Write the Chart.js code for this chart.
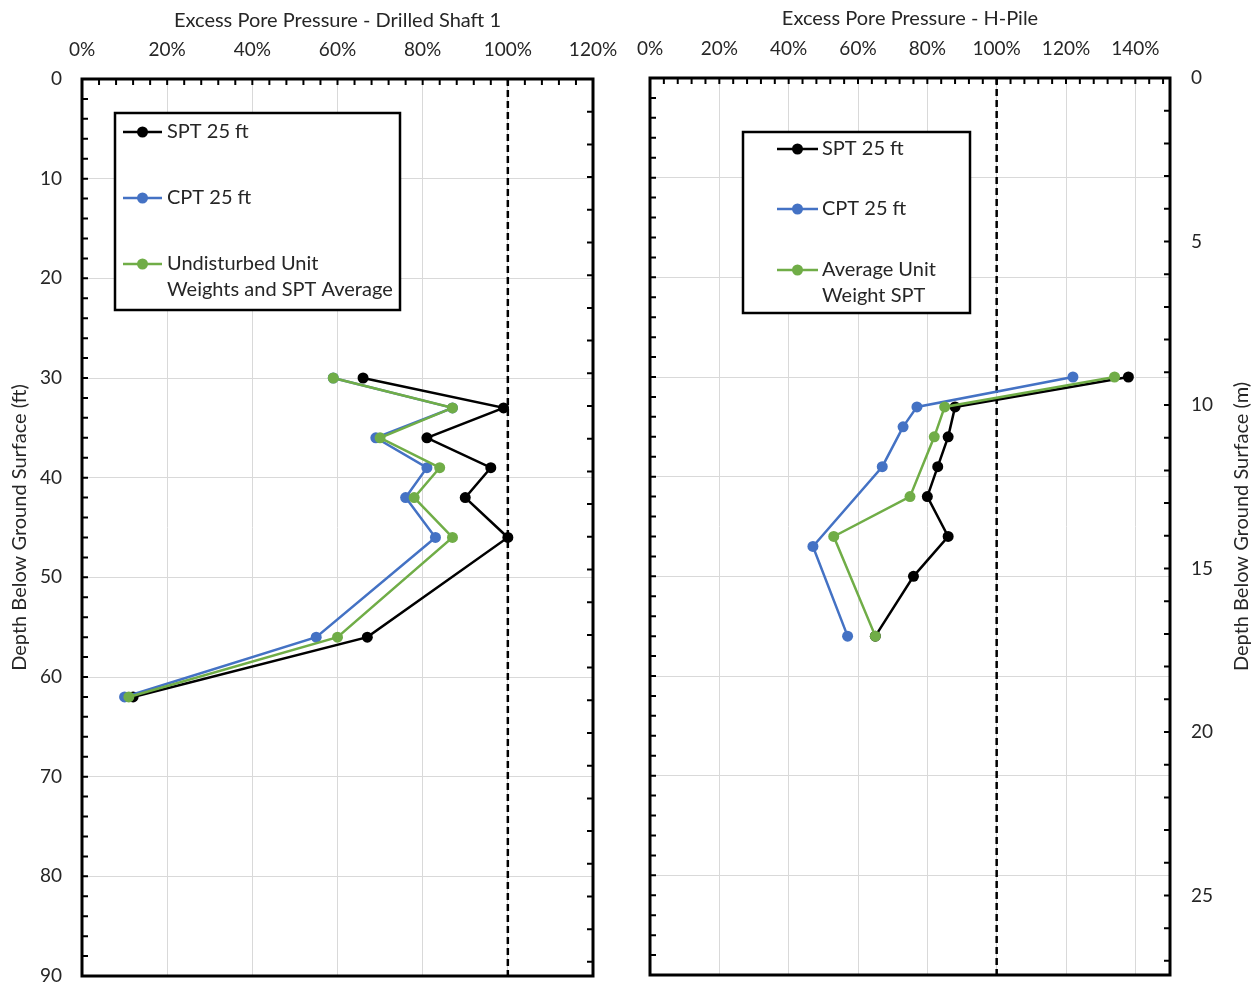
<!DOCTYPE html>
<html>
<head>
<meta charset="utf-8">
<script src="https://cdn.jsdelivr.net/npm/chart.js@4.4.1/dist/chart.umd.min.js"></script>
<style>
  body { margin: 0; background: #fff; }
  #shaftWrap { position: absolute; left: 0; top: 0; width: 625px; height: 986px; }
  #pileWrap { position: absolute; left: 625px; top: 0; width: 633px; height: 986px; }
</style>
</head>
<body>
<div id="shaftWrap"><canvas id="shaftChart"></canvas></div>
<div id="pileWrap"><canvas id="pileChart"></canvas></div>
<script>
// ---- Drilled Shaft 1 (depth in ft, excess pore pressure in %) ----
const shaftDepths = [30, 33, 36, 39, 42, 46, 56, 62];
const shaftSpt = [66, 99, 81, 96, 90, 100, 67, 12];
const shaftCpt = [59, 87, 69, 81, 76, 83, 55, 10];
const shaftUnitWt = [59, 87, 70, 84, 78, 87, 60, 11];

// ---- H-Pile ----
const pileSptDepths = [30, 33, 36, 39, 42, 46, 50, 56];
const pileSpt = [138, 88, 86, 83, 80, 86, 76, 65];
const pileCptDepths = [30, 33, 35, 39, 47, 56];
const pileCpt = [122, 77, 73, 67, 47, 57];
const pileAvgDepths = [30, 33, 36, 42, 46, 56];
const pileAvg = [134, 85, 82, 75, 53, 65];

// tick labels
const shaftXTicks = [0, 20, 40, 60, 80, 100, 120];
const pileXTicks = [0, 20, 40, 60, 80, 100, 120, 140];
const depthTicksFt = [0, 10, 20, 30, 40, 50, 60, 70, 80, 90];
const depthTicksM = [0, 5, 10, 15, 20, 25];
const limitLine = 100;

const FT_TO_M = 0.3048;
const textColor = "#262626";
const fontFamily = "Lato, 'Open Sans', sans-serif";

function points(xs, ys) {
  return ys.map((d, i) => ({ x: xs[i], y: d }));
}

function series(label, color, xs, ys, order) {
  return {
    label: label,
    data: points(xs, ys),
    borderColor: color,
    backgroundColor: color,
    borderWidth: 2.5,
    pointRadius: 5.5,
    pointBorderWidth: 0,
    pointBackgroundColor: color,
    tension: 0,
    order: order
  };
}

// axis size is fixed, drop the extra label padding chart.js adds
function fixSize(prop, size) {
  return s => {
    s[prop] = size;
    s.paddingLeft = s.paddingRight = s.paddingTop = s.paddingBottom = 0;
  };
}

// frame, minor ticks, dashed 100% line, boxed legend
const framePlugin = {
  id: "frame",
  beforeDatasetsDraw(chart) {
    const { ctx, chartArea: a, scales } = chart;
    const px = scales.x.getPixelForValue(limitLine);
    ctx.save();
    ctx.strokeStyle = "#000";
    ctx.lineWidth = 2.5;
    ctx.setLineDash([7, 4]);
    ctx.beginPath();
    ctx.moveTo(px, a.top);
    ctx.lineTo(px, a.bottom);
    ctx.stroke();
    ctx.restore();
  },
  afterDatasetsDraw(chart, args, opts) {
    const { ctx, chartArea: a, scales } = chart;
    ctx.save();

    // minor ticks (inside)
    ctx.strokeStyle = "#000";
    ctx.lineWidth = 2;
    ctx.beginPath();
    for (let v = 0; v <= scales.x.max; v += 4) {
      const px = scales.x.getPixelForValue(v);
      ctx.moveTo(px, a.top);
      ctx.lineTo(px, a.top + 6);
    }
    for (let d = 0; d <= 90; d += 2) {
      const py = scales.y.getPixelForValue(d);
      ctx.moveTo(a.left, py);
      ctx.lineTo(a.left + 6, py);
    }
    for (let m = 0; m <= 27; m++) {
      const py = scales.y.getPixelForValue(m / FT_TO_M);
      ctx.moveTo(a.right, py);
      ctx.lineTo(a.right - 6, py);
    }
    ctx.stroke();

    // plot frame
    ctx.lineWidth = 3;
    ctx.strokeRect(a.left, a.top, a.right - a.left, a.bottom - a.top);

    // legend
    const lg = opts.legend;
    ctx.fillStyle = "#fff";
    ctx.fillRect(lg.x, lg.y, lg.w, lg.h);
    ctx.lineWidth = 2.5;
    ctx.strokeRect(lg.x, lg.y, lg.w, lg.h);
    ctx.font = "20px " + fontFamily;
    ctx.textBaseline = "middle";
    ctx.textAlign = "left";
    chart.data.datasets.forEach((ds, i) => {
      const ry = lg.rows[i];
      ctx.strokeStyle = ds.borderColor;
      ctx.lineWidth = 2.5;
      ctx.beginPath();
      ctx.moveTo(lg.lineX0, ry);
      ctx.lineTo(lg.lineX1, ry);
      ctx.stroke();
      ctx.fillStyle = ds.borderColor;
      ctx.beginPath();
      ctx.arc((lg.lineX0 + lg.lineX1) / 2, ry, 5.5, 0, Math.PI * 2);
      ctx.fill();
      ctx.fillStyle = textColor;
      ds.label.split("\n").forEach((line, j) => {
        ctx.fillText(line, lg.textX, ry + j * 26);
      });
    });

    // right-hand axis title (reads bottom to top)
    if (opts.rightTitle) {
      ctx.translate(opts.rightTitleX, (a.top + a.bottom) / 2);
      ctx.rotate(-Math.PI / 2);
      ctx.textAlign = "center";
      ctx.font = "20px " + fontFamily;
      ctx.fillStyle = textColor;
      ctx.fillText(opts.rightTitle, 0, 0);
    }
    ctx.restore();
  }
};

const tickFont = { family: fontFamily, size: 19 };
const titleFont = { family: fontFamily, size: 20 };
const gridColor = "#d9d9d9";

// ===== Left chart =====
new Chart(document.getElementById("shaftChart"), {
  type: "line",
  data: {
    datasets: [
      series("SPT 25 ft", "#000000", shaftSpt, shaftDepths, 2),
      series("CPT 25 ft", "#4472C4", shaftCpt, shaftDepths, 1),
      series("Undisturbed Unit\nWeights and SPT Average", "#70AD47", shaftUnitWt, shaftDepths, 0)
    ]
  },
  options: {
    responsive: true,
    maintainAspectRatio: false,
    animation: false,
    events: [],
    layout: { padding: { top: 0, left: 0, right: 32, bottom: 10 } },
    plugins: {
      legend: { display: false },
      tooltip: { enabled: false },
      frame: {
        legend: { x: 115, y: 113, w: 285, h: 197, rows: [132, 198, 264], lineX0: 123, lineX1: 162, textX: 167 }
      }
    },
    scales: {
      x: {
        type: "linear",
        position: "top",
        min: 0,
        max: 120,
        afterBuildTicks: s => { s.ticks = shaftXTicks.map(v => ({ value: v })); },
        afterFit: fixSize("height", 79),
        grid: { color: gridColor, drawTicks: false },
        border: { display: false },
        ticks: { padding: 18, font: tickFont, color: textColor, callback: v => v + "%" },
        title: {
          display: true,
          text: "Excess Pore Pressure - Drilled Shaft 1",
          padding: { top: 9, bottom: 0 },
          font: titleFont,
          color: textColor
        }
      },
      y: {
        type: "linear",
        position: "left",
        reverse: true,
        min: 0,
        max: 90,
        afterBuildTicks: s => { s.ticks = depthTicksFt.map(v => ({ value: v })); },
        afterFit: fixSize("width", 82),
        grid: { color: gridColor, drawTicks: false },
        border: { display: false },
        ticks: { padding: 20, font: tickFont, color: textColor },
        title: {
          display: true,
          text: "Depth Below Ground Surface (ft)",
          padding: { top: 8, bottom: 0 },
          font: titleFont,
          color: textColor
        }
      }
    }
  },
  plugins: [framePlugin]
});

// ===== Right chart =====
new Chart(document.getElementById("pileChart"), {
  type: "line",
  data: {
    datasets: [
      series("SPT 25 ft", "#000000", pileSpt, pileSptDepths, 2),
      series("CPT 25 ft", "#4472C4", pileCpt, pileCptDepths, 1),
      series("Average Unit\nWeight SPT", "#70AD47", pileAvg, pileAvgDepths, 0)
    ]
  },
  options: {
    responsive: true,
    maintainAspectRatio: false,
    animation: false,
    events: [],
    layout: { padding: { top: 0, left: 0, right: 0, bottom: 11 } },
    plugins: {
      legend: { display: false },
      tooltip: { enabled: false },
      frame: {
        legend: { x: 118, y: 132, w: 227, h: 181, rows: [149, 209, 270], lineX0: 152, lineX1: 193, textX: 197 },
        rightTitle: "Depth Below Ground Surface (m)",
        rightTitleX: 617
      }
    },
    scales: {
      x: {
        type: "linear",
        position: "top",
        min: 0,
        max: 150,
        afterBuildTicks: s => { s.ticks = pileXTicks.map(v => ({ value: v })); },
        afterFit: fixSize("height", 78),
        grid: { color: gridColor, drawTicks: false },
        border: { display: false },
        ticks: { padding: 18, font: tickFont, color: textColor, callback: v => v + "%" },
        title: {
          display: true,
          text: "Excess Pore Pressure - H-Pile",
          padding: { top: 7, bottom: 0 },
          font: titleFont,
          color: textColor
        }
      },
      y: {
        type: "linear",
        position: "left",
        reverse: true,
        min: 0,
        max: 90,
        afterBuildTicks: s => { s.ticks = depthTicksFt.map(v => ({ value: v })); },
        afterFit: fixSize("width", 25),
        grid: { color: gridColor, drawTicks: false },
        border: { display: false },
        ticks: { display: false }
      },
      ym: {
        type: "linear",
        position: "right",
        reverse: true,
        min: 0,
        max: 90 * FT_TO_M,
        afterBuildTicks: s => { s.ticks = depthTicksM.map(v => ({ value: v })); },
        afterFit: fixSize("width", 88),
        grid: { display: false, drawTicks: false },
        border: { display: false },
        ticks: { padding: 21, font: tickFont, color: textColor }
      }
    }
  },
  plugins: [framePlugin]
});
</script>
</body>
</html>
